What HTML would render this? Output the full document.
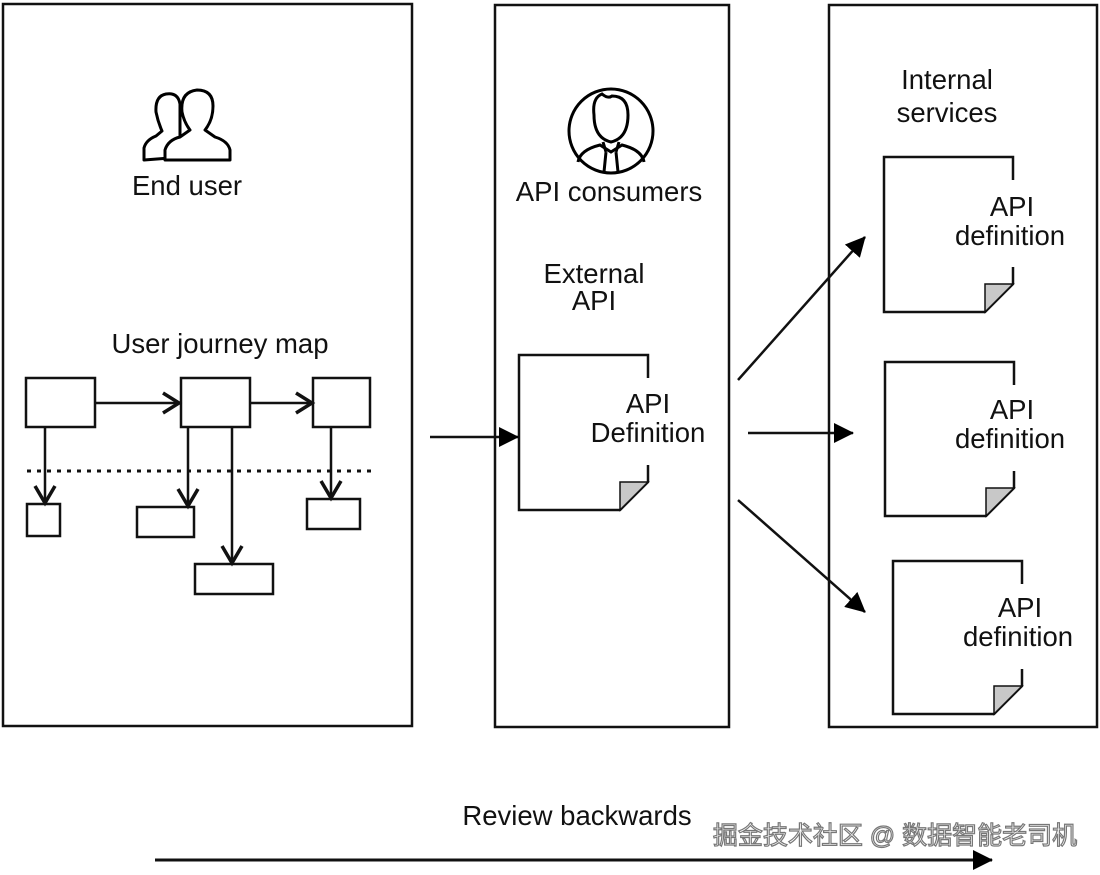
<!DOCTYPE html>
<html><head><meta charset="utf-8"><style>
html,body{margin:0;padding:0;background:#fff;}
svg{display:block;}
text{font-family:"Liberation Sans",sans-serif;font-size:27.5px;fill:#111;}
</style></head><body>
<svg width="1100" height="875" viewBox="0 0 1100 875" xmlns="http://www.w3.org/2000/svg">
<defs>
<marker id="a2" markerWidth="20" markerHeight="20" refX="19" refY="10" orient="auto" markerUnits="userSpaceOnUse" viewBox="0 0 20 20"><path d="M0,0 L20,10 L0,20z" fill="#000"/></marker>
</defs>
<g fill="none" stroke="#111" stroke-width="2.5">
<rect x="3" y="4" width="409" height="722"/>
<rect x="495" y="5" width="234" height="722"/>
<rect x="829" y="5" width="268" height="722"/>
</g>
<!-- users icon -->
<g fill="#fff" stroke="#000" stroke-width="3" stroke-linejoin="round">
<path d="M144,160 L144,148 Q146,140 156,136 L162,131 Q158,122 156,112 Q155,96 166,94 Q178,92 180,104 L180,140 L170,158 Z"/>
<path d="M165,160 L165,150 Q168,140 180,137 L190,130 Q184,122 182,112 Q180,92 197,90 Q213,90 213,106 Q213,120 205,130 L215,137 Q228,141 230,150 L230,160 Z"/>
</g>
<!-- consumer icon -->
<g fill="none" stroke="#000" stroke-width="3">
<circle cx="611" cy="131" r="42"/>
<path d="M594,115 Q592,98 602,94 Q608,99 612,96 Q628,96 628,115 Q628,138 611,142 Q594,138 594,115Z"/>
<path d="M578,162 Q580,150 600,145 L611,152 L622,145 Q642,150 644,162"/>
<path d="M606,152 L604,172 M616,152 L618,172 M603,142 L606,152 M619,142 L616,152"/>
</g>
<text x="187" y="195" text-anchor="middle">End user</text>
<text x="220" y="353" text-anchor="middle">User journey map</text>
<text x="609" y="201" text-anchor="middle">API consumers</text>
<text x="594" y="283" text-anchor="middle">External</text>
<text x="594" y="310" text-anchor="middle">API</text>
<text x="947" y="89" text-anchor="middle">Internal</text>
<text x="947" y="122" text-anchor="middle">services</text>
<!-- journey map -->
<g fill="none" stroke="#111" stroke-width="2.5">
<rect x="26" y="378" width="69" height="49"/>
<rect x="181" y="378" width="69" height="49"/>
<rect x="313" y="378" width="57" height="49"/>
<rect x="27" y="504" width="33" height="32"/>
<rect x="137" y="507" width="57" height="30"/>
<rect x="307" y="499" width="53" height="30"/>
<rect x="195" y="564" width="78" height="30"/>
<path d="M95,403 H180 M250,403 H312 M45,427 V503 M188,427 V506 M232,427 V563 M331,427 V498"/>
<g stroke-width="3.5"><path d="M163,393 L179,403 L163,413 M296,393 L312,403 L296,413 M35,486 L45,503 L55,486 M178,489 L188,506 L198,489 M222,546 L232,563 L242,546 M321,481 L331,498 L341,481"/></g>
<path d="M27,471 H376" stroke-dasharray="4,6" stroke-width="3"/>
</g>
<!-- docs -->
<g fill="none" stroke="#111" stroke-width="2.5">
<path d="M648,378 V355 H519 V510 H620 L648,482 V465"/>
<path d="M1013,180 V157 H884 V312 H985 L1013,284 V267"/>
<path d="M1014,385 V362 H885 V516 H986 L1014,488 V471"/>
<path d="M1022,584 V561 H893 V714 H994 L1022,686 V669"/>
</g>
<g fill="#c8c8c8" stroke="#111" stroke-width="1.5">
<path d="M620,510 L620,482 L648,482Z"/>
<path d="M985,312 L985,284 L1013,284Z"/>
<path d="M986,516 L986,488 L1014,488Z"/>
<path d="M994,714 L994,686 L1022,686Z"/>
</g>
<text x="648" y="413" text-anchor="middle">API</text>
<text x="648" y="442" text-anchor="middle">Definition</text>
<text x="1012" y="216" text-anchor="middle">API</text>
<text x="1010" y="245" text-anchor="middle">definition</text>
<text x="1012" y="419" text-anchor="middle">API</text>
<text x="1010" y="448" text-anchor="middle">definition</text>
<text x="1020" y="617" text-anchor="middle">API</text>
<text x="1018" y="646" text-anchor="middle">definition</text>
<!-- arrows -->
<g stroke="#111" stroke-width="2.5" fill="none">
<path d="M430,437 H518" marker-end="url(#a2)"/>
<path d="M738,380 L865,237" marker-end="url(#a2)"/>
<path d="M748,433 H853" marker-end="url(#a2)"/>
<path d="M738,500 L865,612" marker-end="url(#a2)"/>
<path d="M155,860 H992" stroke-width="3" marker-end="url(#a2)"/>
</g>
<text x="577" y="825" text-anchor="middle">Review backwards</text>
<text x="895" y="844" text-anchor="middle" style="font-family:'Liberation Sans','Noto Sans CJK SC',sans-serif;font-size:25px;fill:#fff;stroke:#777;stroke-width:1.2px;">掘金技术社区 @ 数据智能老司机</text>
</svg>
</body></html>
